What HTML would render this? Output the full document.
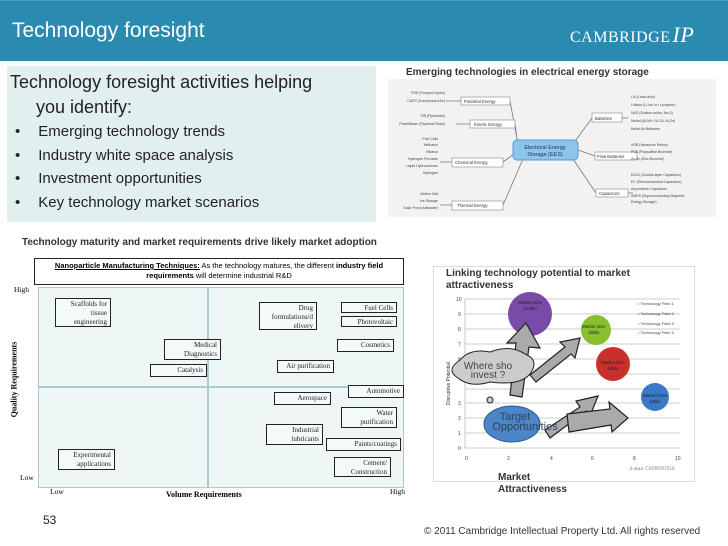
<!DOCTYPE html><html><head><style>
body{margin:0;width:728px;height:546px;background:#fff;position:relative;overflow:hidden;font-family:"Liberation Sans",sans-serif}
.a{position:absolute}
.b{position:absolute;border:1.3px solid #222;background:#f4fafa;font-family:"Liberation Serif",serif;font-size:7px;text-align:right;padding:1px 3px;box-sizing:border-box;line-height:9px;color:#222}
</style></head><body>
<div class="a" style="left:0;top:0;width:728px;height:60px;background:#2a8ab0;border-top:1px solid #4aa5c8"></div>
<div class="a" style="left:12px;top:19px;font-size:21px;color:#fff">Technology foresight</div>
<div class="a" style="left:570px;top:22px;font-family:'Liberation Serif',serif;font-size:16px;color:#fff;letter-spacing:0.5px">CAMBRIDGE<span style="font-style:italic;font-size:22px;margin-left:2px">IP</span></div>
<div class="a" style="left:7px;top:66px;width:369px;height:156px;background:#e2efef"></div>
<div class="a" style="left:10px;top:70px;font-size:18px;color:#222;line-height:25px">Technology foresight activities helping<br><span style="margin-left:26px">you identify:</span></div>
<div class="a" style="left:15px;top:120px;font-size:15px;color:#222;line-height:23.5px">•<span style="margin-left:18px">Emerging technology trends</span><br>•<span style="margin-left:18px">Industry white space analysis</span><br>•<span style="margin-left:18px">Investment opportunities</span><br>•<span style="margin-left:18px">Key technology market scenarios</span></div>
<div class="a" style="left:406px;top:67px;font-size:10px;font-weight:bold;color:#333">Emerging technologies in electrical energy storage</div>
<div class="a" style="left:388px;top:79px;width:328px;height:138px;background:#f2f2f2"></div>
<svg class="a" style="left:388px;top:79px" width="328" height="138">
<g stroke="#777" stroke-width="0.8" fill="none">
<path d="M130 65 L122 22 M130 68 L127 45 M130 72 L115 83 M135 80 L115 126 M185 65 L204 39 M190 71 L207 77 M185 80 L208 114"/>
<path d="M73 22 L58 22 M82 45 L68 45 M64 83 L52 83 M64 126 L52 126 M234 39 L240 39 M249 77 L240 77 M240 114 L245 114"/>
</g>
<rect x="125" y="61" width="65" height="20" rx="4" fill="#8cc4ec" stroke="#5a9ac8"/>
<text x="157" y="70" font-size="5.5" text-anchor="middle" fill="#234">Electrical Energy</text><text x="157" y="77" font-size="5.5" text-anchor="middle" fill="#234">Storage (EES)</text>
<g fill="#fff" stroke="#888" stroke-width="0.6"><rect x="73" y="18" width="49" height="8"/><rect x="82" y="41" width="45" height="8"/><rect x="64" y="79" width="51" height="9"/><rect x="64" y="122" width="51" height="9"/><rect x="204" y="34" width="30" height="9"/><rect x="207" y="73" width="42" height="8"/><rect x="208" y="110" width="32" height="8"/></g>
<g font-size="4.3" fill="#333"><text x="76" y="24">Potential Energy</text><text x="86" y="47">Kinetic Energy</text><text x="67" y="85">Chemical Energy</text><text x="69" y="128">Thermal Energy</text><text x="207" y="41">Batteries</text><text x="209" y="79">Flow Batteries</text><text x="211" y="116">Capacitors</text></g>
<g font-size="3.5" fill="#444" text-anchor="end"><text x="57" y="15">PSH (Pumped Hydro)</text><text x="57" y="23">CAES (Compressed Air)</text><text x="57" y="38">FW (Flywheels)</text><text x="57" y="46">PowerBeam (Flywheel Rotor)</text>
<text x="50" y="61">Fuel Cells</text><text x="50" y="67">Methanol</text><text x="50" y="74">Ethanol</text><text x="50" y="81">Hydrogen Peroxide</text><text x="50" y="88">Liquid Hydrocarbons</text><text x="50" y="95">Hydrogen</text>
<text x="50" y="116">Molten Salt</text><text x="50" y="123">Ice Storage</text><text x="50" y="130">Solar Pond (saltwater)</text></g>
<g font-size="3.5" fill="#444"><text x="243" y="19">L/A (Lead-acid)</text><text x="243" y="27">Lithium (Li-ion or Li-polymer)</text><text x="243" y="35">NAS (Sodium-sulfur, Na-S)</text><text x="243" y="43">Nickel (Ni-MH, Ni-Cd, Ni-Zn)</text><text x="243" y="51">Metal-Air Batteries</text>
<text x="243" y="67">VRB (Vanadium Redox)</text><text x="243" y="74">PSB (Polysulfide Bromide)</text><text x="243" y="81">Zn-Br (Zinc-Bromine)</text>
<text x="243" y="97">EDLC (Double-layer Capacitors)</text><text x="243" y="104">EC (Electrochemical Capacitors)</text><text x="243" y="111">Asymmetric Capacitors</text><text x="243" y="118">SMES (Superconducting Magnetic</text><text x="243" y="124">Energy Storage)</text></g>
</svg>
<div class="a" style="left:22px;top:237px;font-size:10px;font-weight:bold;color:#333">Technology maturity and market requirements drive likely market adoption</div>
<div class="a" style="left:34px;top:258px;width:370px;height:27px;border:1.5px solid #222;box-sizing:border-box;font-size:7.5px;text-align:center;line-height:10px;padding-top:2px"><b><u>Nanoparticle Manufacturing Techniques:</u></b> As the technology matures, the different <b>industry field requirements</b> will determine industrial R&amp;D</div>
<div class="a" style="left:38px;top:287px;width:366px;height:201px;background:#eef6f6;border:1px solid #a8ccd4;box-sizing:border-box"></div>
<div class="a" style="left:207px;top:287px;width:1.5px;height:201px;background:#a8ccd4"></div>
<div class="a" style="left:38px;top:386px;width:366px;height:1.5px;background:#a8ccd4"></div>
<div class="a" style="left:14px;top:285px;font-family:'Liberation Serif',serif;font-size:7.5px">High</div>
<div class="a" style="left:20px;top:473px;font-family:'Liberation Serif',serif;font-size:7.5px">Low</div>
<div class="a" style="left:50px;top:487px;font-family:'Liberation Serif',serif;font-size:7.5px">Low</div>
<div class="a" style="left:390px;top:487px;font-family:'Liberation Serif',serif;font-size:7.5px">High</div>
<div class="a" style="left:166px;top:490px;font-family:'Liberation Serif',serif;font-size:8px;font-weight:bold">Volume Requirements</div>
<div class="a" style="left:-24px;top:375px;transform:rotate(-90deg);font-family:'Liberation Serif',serif;font-size:8px;font-weight:bold;white-space:nowrap">Quality Requirements</div>
<div class="b" style="left:55px;top:298px;width:56px;height:29px">Scaffolds for<br>tissue<br>engineering</div>
<div class="b" style="left:259px;top:302px;width:58px;height:28px">Drug<br>formulations/d<br>elivery</div>
<div class="b" style="left:341px;top:302px;width:56px;height:11px">Fuel Cells</div>
<div class="b" style="left:341px;top:316px;width:56px;height:11px">Photovoltaic</div>
<div class="b" style="left:164px;top:339px;width:57px;height:21px">Medical<br>Diagnostics</div>
<div class="b" style="left:337px;top:339px;width:57px;height:13px">Cosmetics</div>
<div class="b" style="left:150px;top:364px;width:57px;height:13px">Catalysis</div>
<div class="b" style="left:277px;top:360px;width:57px;height:13px">Air purification</div>
<div class="b" style="left:348px;top:385px;width:56px;height:13px">Automotive</div>
<div class="b" style="left:274px;top:392px;width:57px;height:13px">Aerospace</div>
<div class="b" style="left:341px;top:407px;width:56px;height:21px">Water<br>purification</div>
<div class="b" style="left:266px;top:424px;width:57px;height:21px">Industrial<br>lubricants</div>
<div class="b" style="left:326px;top:438px;width:75px;height:13px">Paints/coatings</div>
<div class="b" style="left:334px;top:457px;width:57px;height:20px">Cement/<br>Construction</div>
<div class="b" style="left:58px;top:449px;width:57px;height:21px">Experimental<br>applications</div>
<div class="a" style="left:433px;top:266px;width:260px;height:214px;border:1px solid #ddd"></div>
<div class="a" style="left:446px;top:268px;font-size:10px;font-weight:bold;color:#333;line-height:12px">Linking technology potential to market<br>attractiveness</div>
<svg class="a" style="left:430px;top:290px" width="270" height="200">
<g stroke="#bbb" stroke-width="0.8"><line x1="35" y1="9" x2="250" y2="9"/><line x1="35" y1="24" x2="250" y2="24"/><line x1="35" y1="39" x2="250" y2="39"/><line x1="35" y1="54" x2="250" y2="54"/><line x1="35" y1="69" x2="250" y2="69"/><line x1="35" y1="84" x2="250" y2="84"/><line x1="35" y1="99" x2="250" y2="99"/><line x1="35" y1="113" x2="250" y2="113"/><line x1="35" y1="128" x2="250" y2="128"/><line x1="35" y1="143" x2="250" y2="143"/><line x1="35" y1="158" x2="250" y2="158"/><line x1="35" y1="9" x2="35" y2="158"/></g>
<g font-size="5" fill="#444"><text x="26" y="11">10</text><text x="28" y="26">9</text><text x="28" y="41">8</text><text x="28" y="56">7</text><text x="28" y="71">6</text><text x="28" y="115">3</text><text x="28" y="130">2</text><text x="28" y="145">1</text><text x="28" y="160">0</text>
<text x="35" y="170">0</text><text x="77" y="170">2</text><text x="120" y="170">4</text><text x="161" y="170">6</text><text x="203" y="170">8</text><text x="245" y="170">10</text>
<text x="200" y="180" font-size="4">© 2010</text><text x="215" y="180" fill="#999">CAMBRIDGE</text>
<text x="208" y="15" font-size="4">• Technology Field 1</text><text x="208" y="25" font-size="4">• Technology Field 2</text><text x="208" y="35" font-size="4">• Technology Field 3</text><text x="208" y="44" font-size="4">• Technology Field 4</text></g>
<text x="20" y="115" font-size="5" transform="rotate(-90 20 115)" fill="#333">Disruptive Potential</text>
<circle cx="100" cy="24" r="22" fill="#7a4aa8"/><circle cx="166" cy="40" r="15" fill="#88c030"/><circle cx="183" cy="74" r="17" fill="#c8302c"/><circle cx="225" cy="107" r="14" fill="#3a78c8"/>
<g font-size="4.5" fill="#222" text-anchor="middle"><text x="100" y="14">Market Size</text><text x="100" y="20">£10bln</text><text x="164" y="38">Market size:</text><text x="164" y="44">£5bln</text><text x="183" y="74">Market Size</text><text x="183" y="80">£6bln</text><text x="225" y="107">Market Size</text><text x="225" y="113">£4bln</text></g>
<g fill="#aaa" stroke="#222" stroke-width="1.2"><path d="M80 105 L86 53 L77 53 L96 33 L110 58 L99 57 L92 107 Z"/><path d="M100 85 L135 57 L130 52 L150 48 L145 68 L141 64 L106 92 Z"/><path d="M115 140 L150 117 L146 111 L168 106 L160 126 L156 121 L120 148 Z"/><path d="M137 124 L180 119 L179 112 L198 128 L182 142 L181 135 L139 142 Z"/></g>
<path d="M30 70 Q40 58 60 62 Q80 54 95 64 Q110 70 100 84 Q90 96 60 92 Q40 98 28 88 Q15 80 30 70 Z" fill="#ccc" stroke="#222"/>
<text x="58" y="79" font-size="10" text-anchor="middle" fill="#444">Where sho</text><text x="58" y="88" font-size="10" text-anchor="middle" fill="#444">invest ?</text>
<circle cx="60" cy="110" r="3" fill="#ccc" stroke="#222"/>
<ellipse cx="82" cy="134" rx="28" ry="18" fill="#4a86c8" stroke="#2a5a98"/>
<text x="85" y="130" font-size="11" text-anchor="middle" fill="#345">Target</text><text x="95" y="140" font-size="11" text-anchor="middle" fill="#345">Opportunities</text>
</svg>
<div class="a" style="left:498px;top:472px;font-size:10px;font-weight:bold;color:#333;line-height:12px">Market<br>Attractiveness</div>
<div class="a" style="left:43px;top:513px;font-size:12px;color:#222">53</div>
<div class="a" style="left:424px;top:526px;font-size:10px;color:#333">© 2011 Cambridge Intellectual Property Ltd. All rights reserved</div>
</body></html>
